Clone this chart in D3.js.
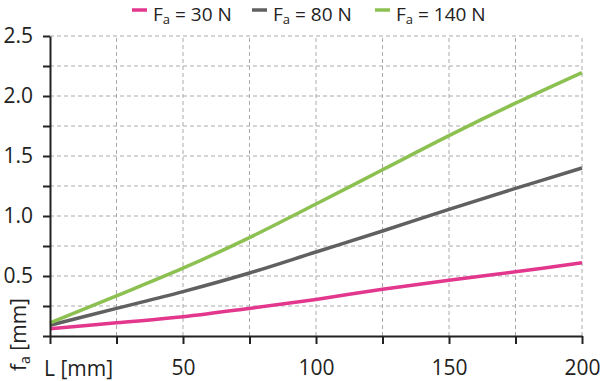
<!DOCTYPE html>
<html>
<head>
<meta charset="utf-8">
<script src="https://cdn.jsdelivr.net/npm/d3@7"></script>
<style>
  body { margin: 0; background: #fff; }
  text { font-family: "Open Sans", "Noto Sans", sans-serif; fill: #222; }
</style>
</head>
<body>
<div class="svgtarget"></div>
<script>
// chart values
var lengths = [0, 25, 50, 75, 100, 125, 150, 175, 200];
var f30  = [0.06, 0.11, 0.16, 0.23, 0.305, 0.39, 0.465, 0.535, 0.61];
var f80  = [0.09, 0.23, 0.37, 0.525, 0.70, 0.875, 1.055, 1.23, 1.40];
var f140 = [0.11, 0.335, 0.565, 0.82, 1.10, 1.385, 1.67, 1.94, 2.195];
var seriesLabels = ["30 N", "80 N", "140 N"];
var seriesColors = ["#e2378d", "#606060", "#8cc152"];
var xTicks = [0, 25, 50, 75, 100, 125, 150, 175, 200];
var xTickLabels = ["", "", "50", "", "100", "", "150", "", "200"];
var yTicks = [0, 0.25, 0.5, 0.75, 1, 1.25, 1.5, 1.75, 2, 2.25, 2.5];
var yTickLabels = ["", "", "0.5", "", "1.0", "", "1.5", "", "2.0", "", "2.5"];

var W = 600, H = 381;
var svg = d3.select(".svgtarget").append("svg")
    .attr("width", W).attr("height", H);

var x = d3.scaleLinear().domain([0, 200]).range([50, 582]);
var y = d3.scaleLinear().domain([0, 2.5]).range([336, 36]);

// grid
var grid = svg.append("g")
    .attr("stroke", "#aaa").attr("stroke-width", 1)
    .attr("stroke-dasharray", "4,3");
grid.selectAll(".gx").data(xTicks.slice(1)).enter().append("line")
    .attr("x1", d => x(d)).attr("x2", d => x(d))
    .attr("y1", y(0)).attr("y2", y(2.5));
grid.selectAll(".gy").data(yTicks.slice(1)).enter().append("line")
    .attr("x1", x(0)).attr("x2", x(200))
    .attr("y1", d => y(d)).attr("y2", d => y(d));

// lines
var series = [f30, f80, f140];
var line = d3.line()
    .x((d, i) => x(lengths[i]))
    .y(d => y(d))
    .curve(d3.curveCatmullRom.alpha(0.5));
svg.selectAll(".series").data(series).enter().append("path")
    .attr("fill", "none")
    .attr("stroke", (d, i) => seriesColors[i])
    .attr("stroke-width", 3.5)
    .attr("d", line);

// axes
var xAxis = d3.axisBottom(x).tickValues(xTicks)
    .tickFormat((d, i) => xTickLabels[i])
    .tickSize(8).tickPadding(16).tickSizeOuter(0);
var gx = svg.append("g").attr("transform", "translate(0," + y(0) + ")").call(xAxis);
var yAxis = d3.axisLeft(y).tickValues(yTicks)
    .tickFormat((d, i) => yTickLabels[i])
    .tickSize(7).tickPadding(10).tickSizeOuter(0);
var gy = svg.append("g").attr("transform", "translate(" + x(0) + ",0)").call(yAxis);

[gx, gy].forEach(function(g) {
    g.select(".domain").attr("stroke", "#222").attr("stroke-width", 2);
    g.selectAll(".tick line").attr("stroke", "#222").attr("stroke-width", 2);
    g.selectAll("text").style("font-size", "21px")
        .style("font-family", "'Open Sans', sans-serif").attr("fill", "#222");
});

// axis titles
svg.append("text").attr("x", 44).attr("y", 376)
    .style("font-size", "21px").text("L [mm]");

var yl = svg.append("text")
    .attr("transform", "translate(26,371) rotate(-90)")
    .style("font-size", "21px");
yl.append("tspan").text("f");
yl.append("tspan").attr("dy", 4).style("font-size", "14px").text("a");
yl.append("tspan").attr("dy", -4).text(" [mm]");

// legend
var legendX = [132, 252, 375];
var leg = svg.selectAll(".leg").data(seriesLabels).enter().append("g")
    .attr("transform", (d, i) => "translate(" + legendX[i] + ",0)");
leg.append("line")
    .attr("x1", 0).attr("x2", 15).attr("y1", 10).attr("y2", 10)
    .attr("stroke", (d, i) => seriesColors[i]).attr("stroke-width", 3.5);
var lt = leg.append("text").attr("x", 21).attr("y", 20.5)
    .style("font-size", "19px");
lt.append("tspan").text("F");
lt.append("tspan").attr("dy", 3).style("font-size", "13px").text("a");
lt.append("tspan").attr("dy", -3).text(d => " = " + d);
</script>
</body>
</html>
